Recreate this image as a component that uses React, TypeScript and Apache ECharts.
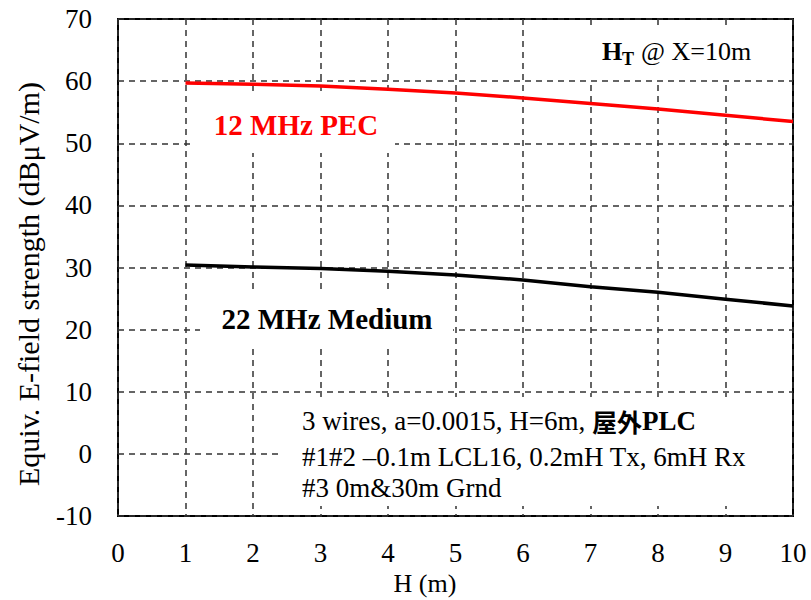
import React, { useEffect, useRef } from "react";
import * as echarts from "echarts";

const xValues = [1, 2, 3, 4, 5, 6, 7, 8, 9, 10];
const pecValues = [59.7, 59.5, 59.2, 58.7, 58.1, 57.3, 56.4, 55.5, 54.5, 53.5];
const mediumValues = [30.4, 30.1, 29.85, 29.4, 28.8, 28.0, 26.9, 26.0, 24.9, 23.8];
const seriesNames = ["12 MHz PEC", "22 MHz Medium"];
const xAxisTitle = "H (m)";
const yAxisTitle = "Equiv. E-field strength (dBμV/m)";
const noteLines = [
  "3 wires, a=0.0015, H=6m, ",
  "#1#2 –0.1m LCL16, 0.2mH Tx, 6mH Rx",
  "#3 0m&30m Grnd",
];

const SERIF = "Liberation Serif";

function txt(x: number, y: number, text: string, size: number, opts: any = {}) {
  return {
    type: "text", x, y, z: 10, rotation: opts.rotation || 0,
    style: {
      text, fill: opts.fill || "#000", fontFamily: SERIF, fontSize: size,
      fontWeight: opts.bold ? "bold" : "normal",
      textAlign: opts.align || "left", textVerticalAlign: "middle",
    },
  };
}

export default function App() {
  const ref = useRef<HTMLDivElement>(null);
  useEffect(() => {
    document.body.style.margin = "0";
    const chart = echarts.init(ref.current!, null, { renderer: "svg" });
    const option: any = {
      animation: false,
      backgroundColor: "#fff",
      grid: {
        left: 118, top: 19, width: 675, height: 497,
        containLabel: false, outerBoundsMode: "none",
        show: true, borderColor: "#000", borderWidth: 2, backgroundColor: "transparent",
      },
      xAxis: {
        type: "value", min: 0, max: 10, interval: 1,
        axisLine: { show: false }, axisTick: { show: false },
        axisLabel: { fontFamily: SERIF, fontSize: 27, color: "#000", margin: 23 },
        splitLine: { show: true, lineStyle: { color: "#333", type: [6, 5], width: 1.5 } },
      },
      yAxis: {
        type: "value", min: -10, max: 70, interval: 10,
        axisLine: { show: false }, axisTick: { show: false },
        axisLabel: { fontFamily: SERIF, fontSize: 27, color: "#000", margin: 26 },
        splitLine: { show: true, lineStyle: { color: "#333", type: [6, 5], width: 1.5 } },
      },
      series: [
        {
          name: seriesNames[0], type: "line", showSymbol: false, symbol: "none",
          data: xValues.map((x, i) => [x, pecValues[i]]),
          lineStyle: { color: "#ff0000", width: 3.5 }, z: 5,
        },
        {
          name: seriesNames[1], type: "line", showSymbol: false, symbol: "none",
          data: xValues.map((x, i) => [x, mediumValues[i]]),
          lineStyle: { color: "#000", width: 3.5 }, z: 5,
        },
      ],
      graphic: [
        { type: "rect", shape: { x: 195, y: 95, width: 200, height: 58 }, style: { fill: "#fff" }, z: 1 },
        { type: "rect", shape: { x: 200, y: 290, width: 253, height: 55 }, style: { fill: "#fff" }, z: 1 },
        { type: "rect", shape: { x: 530, y: 25, width: 262, height: 55 }, style: { fill: "#fff" }, z: 1 },
        { type: "rect", shape: { x: 283, y: 397, width: 509, height: 109 }, style: { fill: "#fff" }, z: 1 },
        txt(28, 284, yAxisTitle, 30, { align: "center", rotation: Math.PI / 2 }),
        txt(425, 583, xAxisTitle, 26, { align: "center" }),
        txt(296, 125, seriesNames[0], 29, { align: "center", bold: true, fill: "#ff0000" }),
        txt(327, 319, seriesNames[1], 29, { align: "center", bold: true }),
        txt(602, 51, "H", 26, { bold: true }),
        txt(622, 59, "T", 18, { bold: true }),
        txt(641, 51, "@ X=10m", 26),
        {
          type: "text", x: 302, y: 421, z: 10,
          style: {
            text: `{r|${noteLines[0]}}{c|屋外}{b|PLC}`,
            textAlign: "left", textVerticalAlign: "middle",
            rich: {
              r: { fontFamily: SERIF, fontSize: 27, color: "#000" },
              c: { fontFamily: "Noto Sans CJK JP", fontWeight: "bold", fontSize: 25, color: "#000" },
              b: { fontFamily: SERIF, fontWeight: "bold", fontSize: 27, color: "#000" },
            },
          },
        },
        txt(302, 457, noteLines[1], 27),
        txt(302, 488, noteLines[2], 27),
      ],
    };
    chart.setOption(option);
    return () => chart.dispose();
  }, []);
  return <div ref={ref} style={{ position: "fixed", left: 0, top: 0, width: 811, height: 600 }} />;
}
